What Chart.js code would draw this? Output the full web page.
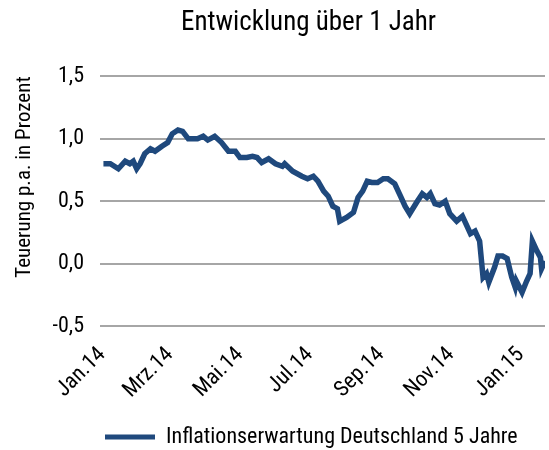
<!DOCTYPE html>
<html>
<head>
<meta charset="utf-8">
<script src="https://cdn.jsdelivr.net/npm/chart.js@4/dist/chart.umd.min.js"></script>
<style>
  body { margin: 0; background: #fff; }
  #wrap { width: 549px; height: 450px; }
</style>
</head>
<body>
<div id="wrap"><canvas id="chart" width="549" height="450"></canvas></div>
<script>
// Tage seit 1.1.2014 und Inflationserwartung in Prozent
const tage = [1, 7, 14, 20, 24, 27, 30, 33, 37, 42, 46, 49, 52, 57, 61, 66, 70, 75, 83, 88, 92, 98,
  104, 110, 116, 120, 126, 131, 135, 139, 145, 151, 157, 159, 166, 174, 179, 184, 188, 193, 197,
  201, 205, 207, 213, 219, 223, 227, 231, 235, 240, 245, 249, 255, 260, 264, 268, 274, 279, 283,
  286, 290, 294, 299, 303, 309, 314, 321, 325, 329, 332, 335, 337, 342, 345, 349, 353, 357, 360,
  361, 366, 370, 373, 375, 379, 382, 383, 386];
const werte = [0.80, 0.80, 0.76, 0.82, 0.80, 0.82, 0.76, 0.80, 0.88, 0.92, 0.90, 0.92, 0.94, 0.97,
  1.04, 1.07, 1.06, 1.00, 1.00, 1.02, 0.99, 1.02, 0.97, 0.90, 0.90, 0.85, 0.85, 0.86, 0.85, 0.81,
  0.84, 0.80, 0.78, 0.80, 0.74, 0.70, 0.68, 0.70, 0.66, 0.58, 0.54, 0.46, 0.44, 0.34, 0.37, 0.41,
  0.53, 0.58, 0.66, 0.65, 0.65, 0.68, 0.68, 0.64, 0.54, 0.46, 0.40, 0.49, 0.56, 0.53, 0.56, 0.48,
  0.47, 0.50, 0.40, 0.34, 0.38, 0.24, 0.26, 0.18, -0.11, -0.08, -0.15, -0.03, 0.06, 0.06, 0.04,
  -0.11, -0.19, -0.14, -0.23, -0.14, -0.08, 0.18, 0.10, 0.05, -0.04, 0.02];

const monatsTage = [0, 59, 120, 181, 243, 304, 365];
const monatsLabels = ['Jan.14', 'Mrz.14', 'Mai.14', 'Jul.14', 'Sep.14', 'Nov.14', 'Jan.15'];

const blau = '#1f497d';
Chart.defaults.font.family = "'Roboto Condensed', 'DejaVu Sans Condensed', sans-serif";
Chart.defaults.color = '#000';

const punkte = tage.map((t, i) => ({ x: t, y: werte[i] }));

// Titel etwas nach links schieben wie im Original
const titelVersatz = {
  id: 'titelVersatz',
  afterLayout(chart) {
    chart.titleBlock.left -= 28;
  },
};

new Chart(document.getElementById('chart'), {
  type: 'line',
  data: {
    datasets: [{
      label: 'Inflationserwartung Deutschland 5 Jahre',
      data: punkte,
      borderColor: blau,
      backgroundColor: blau,
      borderWidth: 5.5,
      pointRadius: 0,
      tension: 0,
      fill: false,
    }],
  },
  plugins: [titelVersatz],
  options: {
    responsive: false,
    animation: false,
    layout: { padding: { top: 0, right: 4, bottom: -8, left: 4 } },
    plugins: {
      title: {
        display: true,
        text: 'Entwicklung über 1 Jahr',
        fullSize: false,
        font: { size: 27, weight: 'normal', lineHeight: 1.2 },
        color: '#000',
        padding: { top: 7, bottom: 37 },
      },
      legend: {
        position: 'bottom',
        align: 'start',
        fullSize: false,
        labels: {
          boxWidth: 50,
          boxHeight: 5,
          font: { size: 22, lineHeight: 1.0 },
          color: '#000',
          padding: 5,
          generateLabels: (chart) => [{
            text: chart.data.datasets[0].label,
            fillStyle: blau,
            strokeStyle: blau,
            lineWidth: 0,
            datasetIndex: 0,
          }],
        },
      },
      tooltip: { enabled: false },
    },
    scales: {
      x: {
        type: 'linear',
        min: -2,
        max: 386,
        grid: { display: false },
        border: { display: false },
        afterBuildTicks: (axis) => {
          axis.ticks = monatsTage.map(v => ({ value: v }));
        },
        afterFit: (axis) => { axis.height = 95; },
        ticks: {
          minRotation: 45,
          maxRotation: 45,
          autoSkip: false,
          padding: 8,
          font: { size: 22 },
          color: '#000',
          callback: (v) => monatsLabels[monatsTage.indexOf(v)],
        },
      },
      y: {
        min: -0.5,
        max: 1.5,
        afterFit: (axis) => { axis.width = 96; },
        grid: { color: '#a6a6a6', lineWidth: 2, drawTicks: false },
        border: { display: false },
        ticks: {
          stepSize: 0.5,
          padding: 16,
          font: { size: 22 },
          color: '#000',
          callback: (v) => v.toFixed(1).replace('.', ','),
        },
        title: {
          display: true,
          text: 'Teuerung p.a. in Prozent',
          align: 'end',
          font: { size: 21 },
          color: '#000',
          padding: { top: 8, bottom: 0 },
        },
      },
    },
  },
});
</script>
</body>
</html>
